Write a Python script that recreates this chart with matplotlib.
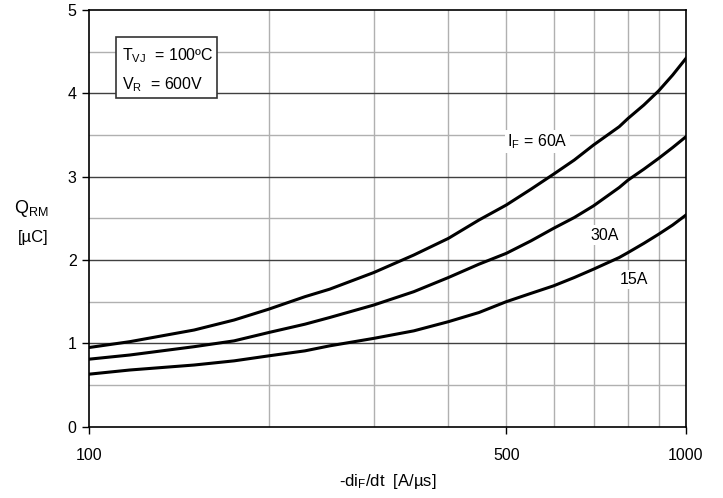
import numpy as np
import matplotlib.pyplot as plt
from matplotlib.patches import Rectangle
from matplotlib.ticker import FixedLocator, NullFormatter

plt.rcParams['font.family'] = ['Liberation Sans', 'DejaVu Sans']
plt.rcParams['mathtext.default'] = 'regular'

# -diF/dt [A/us] and Q_RM [uC]
didt = [100, 117, 150, 175, 200, 230, 253, 300, 350, 400, 450, 500,
        550, 600, 650, 700, 773, 800, 850, 900, 950, 1000]
q_60A = [0.95, 1.02, 1.16, 1.28, 1.41, 1.56, 1.65, 1.85, 2.06, 2.26, 2.48, 2.66,
         2.85, 3.03, 3.20, 3.38, 3.60, 3.70, 3.86, 4.03, 4.22, 4.42]
q_30A = [0.81, 0.86, 0.96, 1.03, 1.13, 1.23, 1.31, 1.46, 1.62, 1.79, 1.95, 2.08,
         2.23, 2.38, 2.51, 2.65, 2.87, 2.96, 3.09, 3.22, 3.35, 3.48]
q_15A = [0.63, 0.68, 0.74, 0.79, 0.85, 0.91, 0.97, 1.06, 1.15, 1.26, 1.37, 1.50,
         1.60, 1.69, 1.79, 1.89, 2.03, 2.09, 2.20, 2.31, 2.42, 2.54]

x_ticks = [100, 500, 1000]
x_grid = [200, 300, 400, 500, 600, 700, 800, 900]

fig = plt.figure(figsize=(7.23, 4.98), dpi=100)
ax = fig.add_axes([0.1231, 0.1432, 0.8257, 0.8367])

ax.set_xscale('log')
ax.set_xlim(100, 1000)
ax.set_ylim(0, 5)

# grid: light lines every 0.5 and at 200..900, darker lines at whole numbers
for v in x_grid:
    ax.axvline(v, color='#b0b0b0', lw=1.0, zorder=1)
for v in [0.5, 1.5, 2.5, 3.5, 4.5]:
    ax.axhline(v, color='#b0b0b0', lw=1.0, zorder=1)
for v in [1, 2, 3, 4]:
    ax.axhline(v, color='#404040', lw=1.0, zorder=1)

for q in (q_60A, q_30A, q_15A):
    ax.plot(didt, q, color='black', lw=2.2, zorder=3)

ax.xaxis.set_major_locator(FixedLocator(x_ticks))
ax.xaxis.set_minor_locator(FixedLocator([]))
ax.set_xticklabels([str(t) for t in x_ticks])
ax.xaxis.set_minor_formatter(NullFormatter())
ax.set_yticks([0, 1, 2, 3, 4, 5])
ax.tick_params(axis='both', direction='out', length=5, width=1, labelsize=11.5, pad=10)
ax.tick_params(axis='y', pad=4)

for s in ax.spines.values():
    s.set_linewidth(1.2)
    s.set_zorder(4)

ax.set_xlabel('-di$_F$/dt  [A/µs]', fontsize=12, labelpad=7)
fig.text(0.044, 0.582, 'Q$_{RM}$', fontsize=13, ha='center', va='center')
fig.text(0.046, 0.524, '[µC]', fontsize=12, ha='center', va='center')

bbox_w = dict(facecolor='white', edgecolor='none', pad=1.5)
ax.text(564, 3.42, 'I$_F$ = 60A', fontsize=11.5, ha='center', va='center', bbox=bbox_w, zorder=2)
ax.text(731, 2.30, '30A', fontsize=11.5, ha='center', va='center', bbox=bbox_w, zorder=2)
ax.text(818, 1.77, '15A', fontsize=11.5, ha='center', va='center', bbox=bbox_w, zorder=2)

# condition box
ax.add_patch(Rectangle((0.0452, 0.789), 0.1692, 0.146, transform=ax.transAxes,
                       facecolor='white', edgecolor='#333333', lw=1.2, zorder=5))
ax.text(0.0555, 0.891, 'T$_{VJ}$  = 100ºC', transform=ax.transAxes, fontsize=11.5,
        ha='left', va='center', zorder=6)
ax.text(0.0555, 0.821, 'V$_R$  = 600V', transform=ax.transAxes, fontsize=11.5,
        ha='left', va='center', zorder=6)

fig.savefig('out.png', dpi=100)
